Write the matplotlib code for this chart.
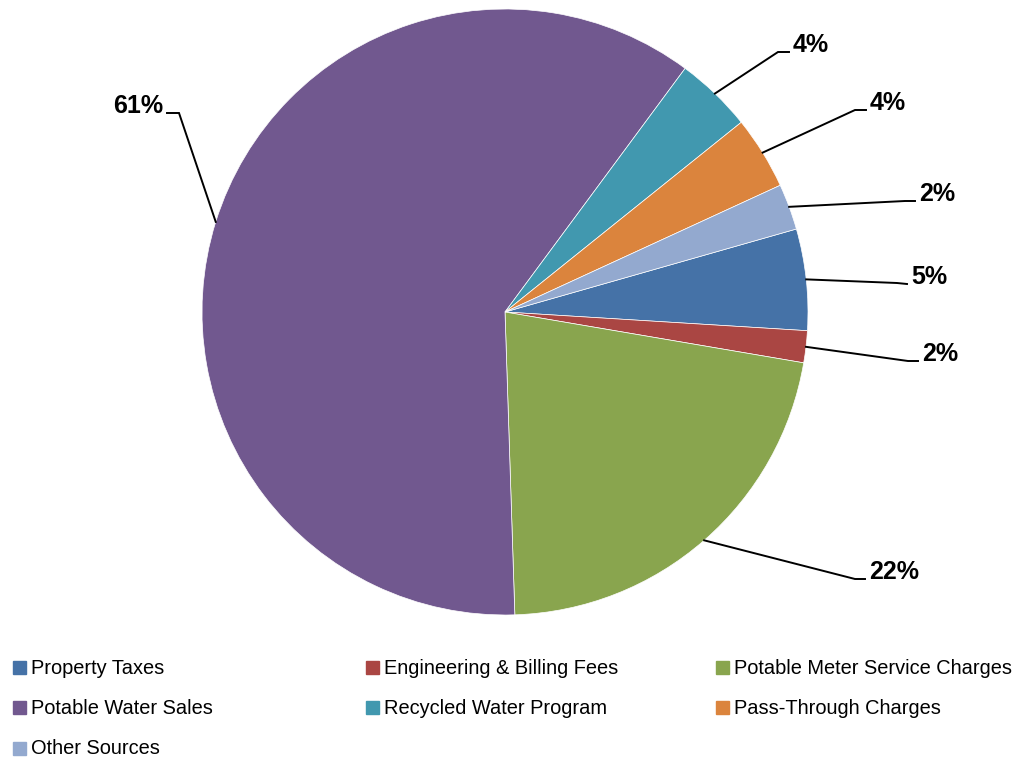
import numpy as np
from matplotlib import pyplot as plt
from matplotlib.patches import Rectangle

categories = ['Property Taxes', 'Engineering & Billing Fees', 'Potable Meter Service Charges',
              'Potable Water Sales', 'Recycled Water Program', 'Pass-Through Charges', 'Other Sources']
shares = [5.4, 1.7, 21.8, 60.65, 4.1, 3.9, 2.45]
colors = ['#4572A7', '#AA4643', '#89A54E', '#71588F', '#4198AF', '#DB843D', '#93A9CF']

W, H = 1020, 760
cx, cy, R = 505, 312, 303

# label elbow (bend) and end of leader line, in pixels
label_bend = [(897, 283), (908, 361), (855, 579), (179, 113), (778, 52), (855, 110), (905, 201)]
label_end = [(907, 284), (918, 361), (865, 579), (167, 113), (789, 52), (866, 110), (915, 201)]


def to_data(p):
    return ((p[0] - cx) / R, (cy - p[1]) / R)


fig = plt.figure(figsize=(W / 100, H / 100), dpi=100)
ax = fig.add_axes([0, 0, 1, 1])
wedges, _ = ax.pie(shares, colors=colors, startangle=15.9, counterclock=False,
                   radius=1, center=(0, 0),
                   wedgeprops=dict(edgecolor='white', linewidth=0.5))

for i, w in enumerate(wedges):
    mid = np.deg2rad((w.theta1 + w.theta2) / 2)
    ex, ey = np.cos(mid), np.sin(mid)
    bx, by = to_data(label_bend[i])
    lx, ly = to_data(label_end[i])
    ax.plot([ex, bx, lx], [ey, by, ly], color='black', lw=1.4, solid_joinstyle='miter')
    if lx < 0:
        ax.text(lx - 4 / R, ly, '%.0f%%' % shares[i], ha='right', va='baseline',
                fontsize=18, fontweight='bold', family='Liberation Sans')
    else:
        ax.text(lx + 4 / R, ly, '%.0f%%' % shares[i], ha='left', va='baseline',
                fontsize=18, fontweight='bold', family='Liberation Sans')

ax.set_xlim(-cx / R, (W - cx) / R)
ax.set_ylim((cy - H) / R, cy / R)
ax.set_aspect('auto')
ax.axis('off')

# legend, row by row, three columns
col_x = [13, 366, 716]
row_y = [667, 707, 748]
for i, name in enumerate(categories):
    x = col_x[i % 3]
    y = row_y[i // 3]
    fig.patches.append(Rectangle((x / W, 1 - (y + 6.5) / H), 13 / W, 13 / H,
                                 transform=fig.transFigure, color=colors[i]))
    fig.text((x + 18) / W, 1 - (y + 1) / H, name, ha='left', va='center',
             fontsize=14.4, family='Liberation Sans', color='black')

plt.savefig('out.png', dpi=100)
